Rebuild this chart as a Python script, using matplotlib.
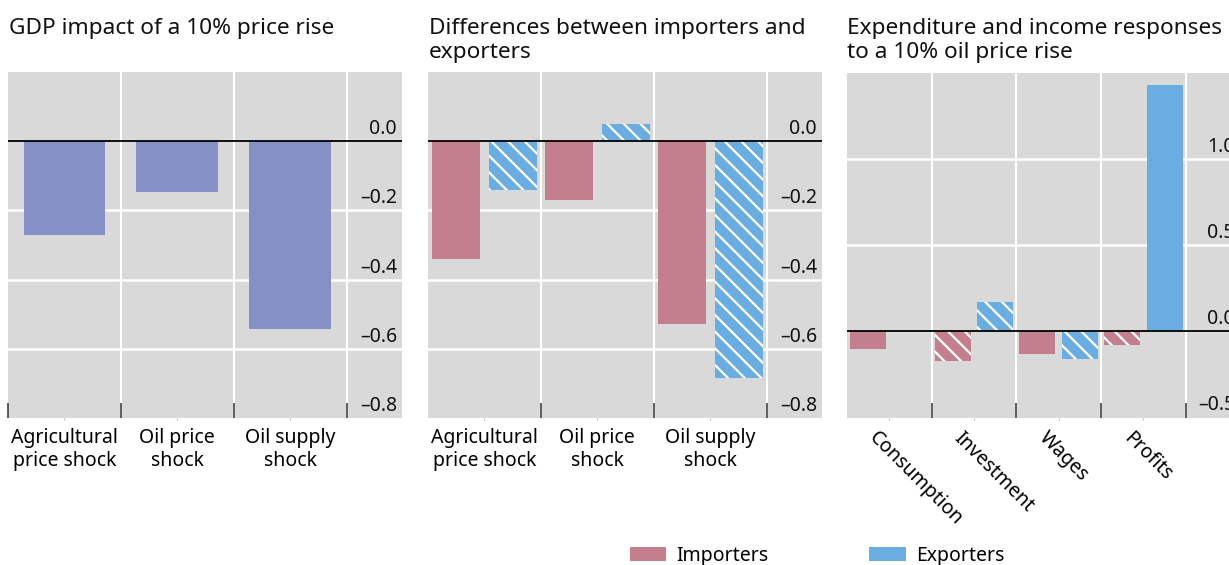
import numpy as np
import matplotlib
matplotlib.use('Agg')
import matplotlib.pyplot as plt
import matplotlib.transforms as mtransforms
from matplotlib.patches import Patch

plt.rcParams['font.family'] = ['Noto Sans', 'DejaVu Sans']
plt.rcParams['hatch.linewidth'] = 1.6
FS = 14

# Data
titles = ['GDP impact of a 10% price rise',
          'Differences between importers and\nexporters',
          'Expenditure and income responses\nto a 10% oil price rise']

shocks = ['Agricultural\nprice shock', 'Oil price\nshock', 'Oil supply\nshock']
gdp_impact = [-0.27, -0.147, -0.543]

importers_shock = [-0.34, -0.17, -0.527]
exporters_shock = [-0.14, 0.05, -0.683]
exporters_shock_hatched = [True, True, True]
importers_shock_hatched = [False, False, False]

components = ['Consumption', 'Investment', 'Wages', 'Profits']
importers_comp = [-0.10, -0.17, -0.13, -0.08]
exporters_comp = [np.nan, 0.17, -0.16, 1.43]
importers_comp_hatched = [False, True, False, True]
exporters_comp_hatched = [False, True, True, False]

yticks1 = [-0.8, -0.6, -0.4, -0.2, 0.0]
yticks3 = [-0.5, 0.0, 0.5, 1.0]

# Colours
bg = '#d9d9d9'
single_col = '#8490c6'
imp_col = '#c47f8e'
exp_col = '#6aade0'

fig = plt.figure(figsize=(12.29, 5.65), dpi=100)
W, H = 1229, 565


def make_ax(left, right, top, bottom):
    return fig.add_axes([left / W, 1 - bottom / H, (right - left) / W, (bottom - top) / H])


def style_ax(ax, n, ylim, yticks, xmax, left_tick=False):
    ax.set_facecolor(bg)
    for s in ax.spines.values():
        s.set_visible(False)
    ax.set_xlim(-0.5, xmax)
    ax.set_ylim(*ylim)
    bounds = [i + 0.5 for i in range(n)]
    ticks = ([-0.5] if left_tick else []) + bounds
    ax.set_xticks(ticks)
    ax.set_xticklabels([])
    ax.tick_params(axis='x', which='major', direction='in', length=10.5,
                   width=1.1, color='#333333')
    ax.set_yticks([])
    # vertical white grid lines at category boundaries
    for b in bounds:
        ax.axvline(b, color='white', lw=1.5, zorder=1)
    # horizontal grid lines and right-side value labels
    for v in yticks:
        if v != 0 and v != ylim[0]:
            ax.axhline(v, color='white', lw=1.8, zorder=1)
        lab = f'{v:.1f}'.replace('-', '\u2013')
        tr = mtransforms.offset_copy(ax.get_yaxis_transform(), fig=fig,
                                     x=-5, y=2, units='dots')
        ax.text(1, v, lab, transform=tr, ha='right', va='bottom',
                fontsize=FS, color='#111111', zorder=5)
    ax.axhline(0, color='black', lw=1.3, zorder=4)


def set_center_labels(ax, labels, **kw):
    x = np.arange(len(labels))
    ax.set_xticks(x, minor=True)
    ax.set_xticklabels(labels, minor=True, fontsize=FS, **kw)
    ax.tick_params(axis='x', which='minor', direction='out', length=1.5,
                   width=0.8, color='#bbbbbb', pad=6)


def draw_bars(ax, x, vals, color, hatched, width):
    for xi, v, h in zip(x, vals, hatched):
        if np.isnan(v):
            continue
        ax.bar(xi, v, width=width, color=color,
               edgecolor='white' if h else color, linewidth=0,
               hatch='\\\\' if h else None, zorder=3)


# Panel 1
ax1 = make_ax(8, 402, 72, 418)
style_ax(ax1, 3, (-0.8, 0.2), yticks1, 2.99, left_tick=True)
x = np.arange(len(shocks))
ax1.bar(x, gdp_impact, width=0.725, color=single_col, zorder=3)
set_center_labels(ax1, shocks, linespacing=1.2)

# Panel 2
ax2 = make_ax(428, 822, 72, 418)
style_ax(ax2, 3, (-0.8, 0.2), yticks1, 2.99)
off, bw = 0.252, 0.425
draw_bars(ax2, x - off, importers_shock, imp_col, importers_shock_hatched, bw)
draw_bars(ax2, x + off, exporters_shock, exp_col, exporters_shock_hatched, bw)
set_center_labels(ax2, shocks, linespacing=1.2)

# Panel 3
ax3 = make_ax(847, 1240, 72.5, 417.5)
style_ax(ax3, 4, (-0.5, 1.5), yticks3, 4.14)
x3 = np.arange(len(components))
draw_bars(ax3, x3 - off, importers_comp, imp_col, importers_comp_hatched, bw)
draw_bars(ax3, x3 + off, exporters_comp, exp_col, exporters_comp_hatched, bw)
set_center_labels(ax3, components, rotation=-45, ha='left', va='top',
                  rotation_mode='anchor')
shift = mtransforms.ScaledTranslation(-10 / 100, 0, fig.dpi_scale_trans)
for lbl in ax3.get_xticklabels(minor=True):
    lbl.set_transform(lbl.get_transform() + shift)

# Titles
for ax_left, t in zip([8, 428, 846], titles):
    fig.text((ax_left + 1) / W, 1 - 18 / H, t, ha='left', va='top',
             fontsize=16.3, linespacing=1.2, color='#111111')

# Legend
handles = [Patch(facecolor=imp_col, label='Importers'),
           Patch(facecolor=exp_col, label='Exporters')]
fig.legend(handles=handles, loc='center', bbox_to_anchor=(817 / W, 1 - 556 / H),
           ncol=2, frameon=False, fontsize=FS, handlelength=1.9,
           handleheight=0.75, handletextpad=0.5, columnspacing=5.2)

fig.savefig('out.png', dpi=100)
